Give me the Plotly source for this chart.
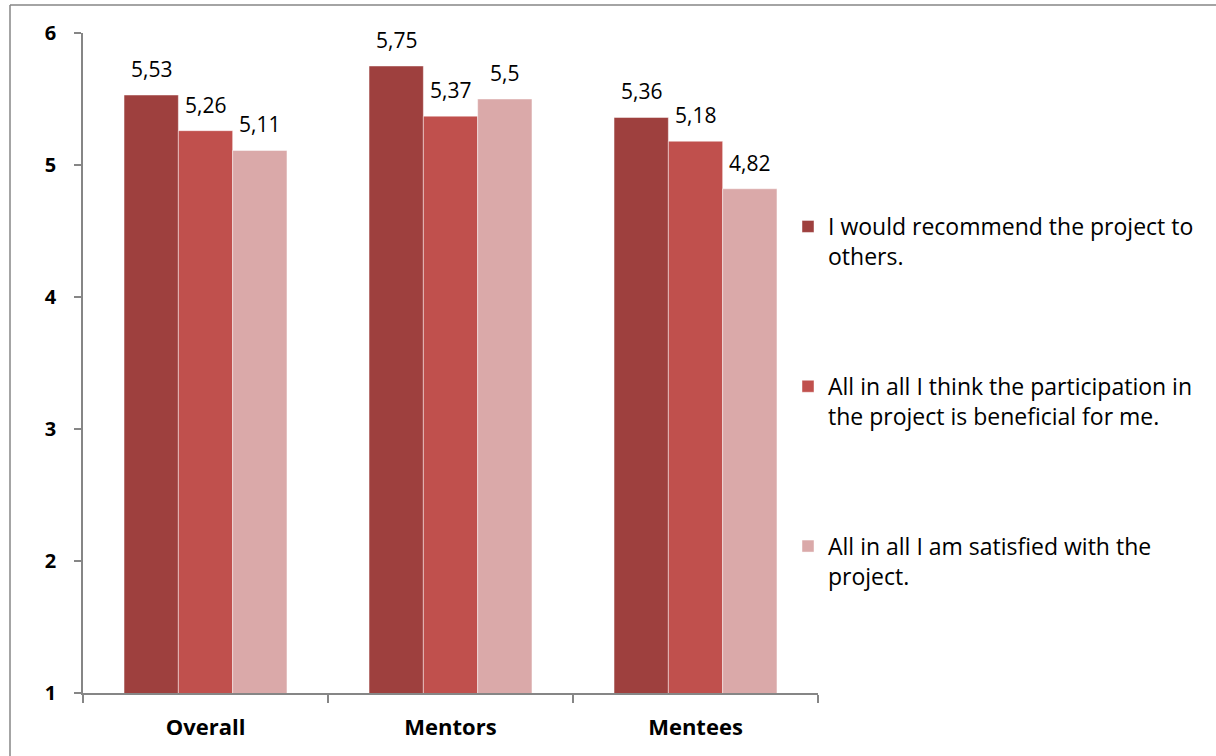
import plotly.graph_objects as go

categories = ["Overall", "Mentors", "Mentees"]
series_names = [
    "I would recommend the project to<br>others.",
    "All in all I think the participation in<br>the project is beneficial for me.",
    "All in all I am satisfied with the<br>project.",
]
recommend = [5.53, 5.75, 5.36]
beneficial = [5.26, 5.37, 5.18]
satisfied = [5.11, 5.50, 4.82]
y_ticks = [1, 2, 3, 4, 5, 6]

colors = ["#9E403E", "#C0504D", "#DAA9A9"]
series_values = [recommend, beneficial, satisfied]

W, H = 1216, 756
ML, MR, MT, MB = 83, 398, 33, 63
BARGAP = 0.335
FONT = "Open Sans"
GRAY = "#868686"

fig = go.Figure()
for i, (name, vals, col) in enumerate(zip(series_names, series_values, colors)):
    fig.add_trace(go.Bar(
        x=categories, y=vals, name=name, legendgroup=f"g{i}",
        marker=dict(color=col, line=dict(color="rgba(255,255,255,0.45)", width=1)),
        hoverinfo="skip",
    ))

# data labels above bars
bw = (1 - BARGAP) / len(series_values)
annotations = []
for i, vals in enumerate(series_values):
    off = (i - (len(series_values) - 1) / 2) * bw
    for ci, v in enumerate(vals):
        annotations.append(dict(
            x=ci + off, y=v, xref="x", yref="y",
            text=f"{v:g}".replace(".", ","), showarrow=False,
            yanchor="middle", yshift=26,
            font=dict(family=FONT, size=21, color="#000000"),
        ))

pw = W - ML - MR
ph = H - MT - MB
left_x = (10 - ML) / pw
top_y = (H - MB - 5) / ph
shapes = [
    dict(type="line", xref="paper", yref="paper", x0=left_x, x1=left_x,
         y0=-MB / ph - 0.01, y1=top_y, line=dict(color=GRAY, width=1.5)),
    dict(type="line", xref="paper", yref="paper", x0=left_x, x1=(W - ML) / pw + 0.01,
         y0=top_y, y1=top_y, line=dict(color=GRAY, width=1.5)),
]

fig.update_layout(
    width=W, height=H,
    margin=dict(l=ML, r=MR, t=MT, b=MB, autoexpand=False),
    paper_bgcolor="white", plot_bgcolor="white",
    barmode="group", bargap=BARGAP, bargroupgap=0,
    font=dict(family=FONT, color="#000000"),
    annotations=annotations, shapes=shapes,
    showlegend=True,
    legend=dict(
        x=(788 - ML) / pw, xanchor="left",
        y=(H - MB - 205) / ph, yanchor="top",
        font=dict(family=FONT, size=23, color="#000000"),
        tracegroupgap=97, valign="top",
        traceorder="grouped", bgcolor="rgba(0,0,0,0)",
        itemwidth=30,
    ),
)
fig.update_xaxes(
    showline=True, linecolor=GRAY, linewidth=1.5,
    ticks="outside", tickson="boundaries", ticklen=8, tickcolor=GRAY, tickwidth=1.5,
    tickfont=dict(family=FONT, size=22, color="#000000", weight="bold"),
    ticklabelstandoff=14, showgrid=False, zeroline=False,
)
fig.update_yaxes(
    range=[1, 6], tickvals=y_ticks, ticktext=[str(t) for t in y_ticks],
    showline=True, linecolor=GRAY, linewidth=1.5,
    ticks="outside", ticklen=7, tickcolor=GRAY, tickwidth=1.5,
    tickfont=dict(family=FONT, size=20, color="#000000", weight="bold"),
    ticklabelstandoff=14, showgrid=False, zeroline=False,
)

fig.write_html("out.html", config={"displayModeBar": False},
               post_script="document.body.style.margin='0';")
